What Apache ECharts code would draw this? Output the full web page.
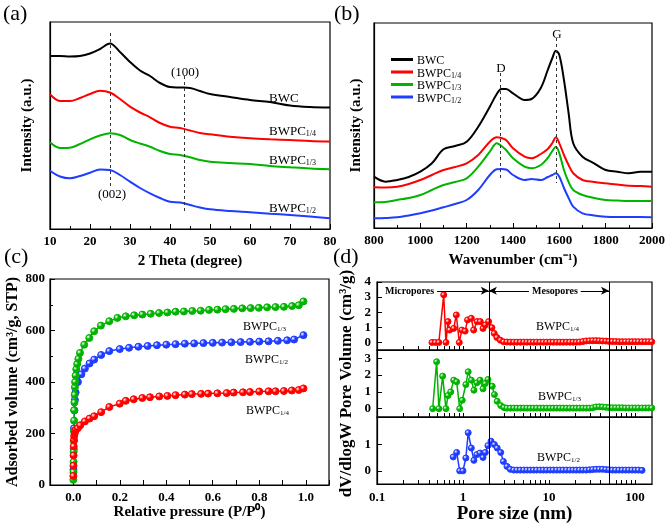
<!DOCTYPE html>
<html><head><meta charset="utf-8">
<script src="https://cdn.jsdelivr.net/npm/echarts@6/dist/echarts.min.js"></script>
<style>html,body{margin:0;padding:0;background:#fff}#c{width:668px;height:526px}</style>
</head><body><div id="c"></div>
<script>
// ---------- (a) XRD ----------
const xrdTheta = [10,12.5,15,17.5,20,22.5,25,27.5,30,32.5,35,37.5,40,42.5,45,47.5,50,55,60,65,70,75,80];
const xrdBWC   = [173,173,172.5,173,175.5,180,185.5,177,167,158.5,153,146,142,141.5,141,138,135,132,129,127,123.5,122,121.5];
const xrdP14   = [134.7,128,128,131,135,138.3,136.5,130,122.3,116.5,111.7,106,102.3,101,98.5,96,94.7,92.3,90.7,89.7,89,88,87.5];
const xrdP13   = [86.7,81,81.3,85,89.7,93.5,95.7,94,89,85.5,82.3,78,75,74,71.7,69,67.3,66,65,63,61.7,60.5,59.7];
const xrdP12   = [58.3,52.5,50.7,53,56.3,59.5,59,54,47.3,41,35.7,31,27.3,26.5,24,21.5,19.7,18,16.7,15.3,14,12.5,10.7];

// ---------- (b) Raman ----------
const ramanWn  = [800,850,900,950,1000,1050,1100,1150,1200,1250,1300,1330,1350,1370,1400,1450,1480,1520,1550,1570,1585,1600,1620,1640,1660,1700,1750,1800,1850,1900,1950,2000];
const ramanBWC = [51.3,46.3,48,51,56.3,64.7,78.7,82,86.3,101.3,121.3,134,139,139,134.7,128,129,140,158,170,177.3,173,148,115,84.7,71.3,64.7,58,56.3,54.7,56.3,56.3];
const ramanP14 = [40.7,40.5,41.3,44,48,53,58,61,64.7,73,86.3,90.7,90,88,79.7,71.3,69.7,74,79,85,90.7,84.7,73,63,54.7,48,46,44.7,43.5,42.3,42,41.3];
const ramanP13 = [25.7,26,28,30,33,38,43,46,49.7,61.3,76.3,84.7,82,78,69.7,61.3,59.7,63,70,77,81.3,74.7,58,46,38,33,30,28,27.5,27,27,27];
const ramanP12 = [9.7,10,10.7,12.5,14.7,17.5,20.7,24,28,38,53,58.7,59,58.5,53,48,49,48,51,53,54.7,51.3,40,30,21.3,14.7,12.5,11.3,11,11,11,10.7];

// ---------- (c) N2 isotherms ----------
const isoP13 = [0.0005,0.001,0.0015,0.002,0.0025,0.003,0.0035,0.004,0.005,0.006,0.007,0.008,0.01,0.013,0.017,0.022,0.029,0.047,0.069,0.09,0.119,0.155,0.19,0.226,0.262,0.297,0.333,0.369,0.405,0.44,0.476,0.512,0.548,0.584,0.62,0.655,0.691,0.727,0.763,0.798,0.834,0.87,0.906,0.941,0.97,0.99];
const isoV13 = [20,50,90,130,170,210,250,290,320,350,380,400,425,450,470,490,513,545,571,597,619,636,649,655,659,662,665,668,670,673,674,676,677,680,681,683,684,686,687,688,690,691,692,695,698,713];
const isoP12 = [0.001,0.002,0.003,0.005,0.007,0.01,0.02,0.035,0.05,0.07,0.09,0.12,0.155,0.2,0.24,0.28,0.32,0.36,0.4,0.44,0.48,0.52,0.56,0.6,0.64,0.68,0.72,0.76,0.8,0.84,0.88,0.92,0.95,0.99];
const isoV12 = [60,140,220,290,330,360,400,430,452,472,487,505,520,528,533,537,540,543,545,547,549,550,551,552,553,554,555,556,557,558,560,562,565,582];
const isoP14 = [0.0005,0.001,0.0015,0.002,0.003,0.004,0.006,0.008,0.012,0.02,0.03,0.05,0.07,0.09,0.12,0.155,0.2,0.226,0.26,0.297,0.33,0.37,0.405,0.44,0.48,0.51,0.55,0.58,0.62,0.66,0.69,0.73,0.76,0.8,0.84,0.87,0.906,0.94,0.97,0.99];
const isoV14 = [35,75,115,150,175,190,200,210,215,221,232,247,258,267,283,303,316,327,333,338,341,344,346,349,351,353,354,355,356,357,359,360,361,363,364,364,365,367,369,375];
const isoXLabels = [0,0.2,0.4,0.6,0.8,1.0];
const isoXTicks = [-0.1,0,0.1,0.2,0.3,0.4,0.5,0.6,0.7,0.8,0.9,1.0,1.1];

// ---------- (d) pore size distribution ----------
const poreTail = [3.25,3.55,3.9,4.25,4.65,5.1,5.55,6.05,6.6,7.2,7.9,8.6,9.4,10.3,11.2,12.3,13.4,14.6,16,17.5,19.1,20.8,22.7,24.8,27.1,29.6,32.3,35.3,38.5,42,45.9,50.1,54.7,59.7,65.2,71.2,77.7,84.8,92.6,101,110,121,132,144,157];
const psR = [0.436,0.478,0.524,0.597,0.634,0.67,0.70,0.78,0.836,0.906,0.97,1.06,1.13,1.25,1.33,1.46,1.59,1.71,1.82,1.99,2.17,2.31,2.48,2.72,2.97];
const dvR = [0,0,0,3.15,0,1.38,0.82,0.93,1.82,0,0.82,0.75,1.49,1.6,0.82,1.38,1.38,0.93,1.16,1.38,0.98,0.6,0.33,0.15,0.04];
const dvRTail = [0.03,0.02,0.02,0.02,0.02,0.02,0.02,0.02,0.02,0.02,0.02,0.02,0.02,0.02,0.02,0.02,0.02,0.02,0.02,0.02,0.02,0.02,0.03,0.06,0.1,0.11,0.12,0.12,0.11,0.1,0.09,0.07,0.06,0.06,0.05,0.05,0.05,0.05,0.05,0.05,0.05,0.05,0.05,0.05,0.05];
const psG = [0.444,0.494,0.525,0.58,0.634,0.67,0.72,0.78,0.845,0.916,0.98,1.08,1.15,1.25,1.34,1.45,1.58,1.71,1.82,1.95,2.19,2.32,2.5,2.75,3.0];
const dvG = [0,2.8,0,1.94,0,0.78,1.0,1.7,1.6,0,0.5,1.44,2.2,1.7,1.1,1.54,1.7,1.18,1.5,1.74,1.34,0.84,0.44,0.18,0.06];
const dvGTail = [0.03,0.03,0.03,0.03,0.03,0.03,0.03,0.03,0.03,0.03,0.03,0.03,0.03,0.03,0.03,0.03,0.03,0.03,0.03,0.03,0.03,0.03,0.03,0.03,0.03,0.03,0.05,0.1,0.11,0.1,0.08,0.06,0.05,0.05,0.05,0.05,0.04,0.04,0.04,0.04,0.04,0.04,0.04,0.04,0.04];
const psB = [0.77,0.845,0.916,1.0,1.08,1.15,1.25,1.34,1.45,1.58,1.71,1.82,1.95,2.12,2.32,2.5,2.75,2.95];
const dvB = [0.53,0.7,0,0,0.49,1.45,0.87,0.4,0.62,0.68,0.51,0.7,0.96,1.13,1.0,0.87,0.7,0.36];
const dvBTail = [0.17,0.06,0.03,0.03,0.03,0.03,0.03,0.03,0.03,0.03,0.03,0.03,0.03,0.03,0.03,0.03,0.03,0.03,0.03,0.03,0.03,0.03,0.03,0.03,0.03,0.04,0.05,0.06,0.06,0.06,0.05,0.04,0.03,0.03,0.03,0.03,0.03,0.03,0.03,0.03,0.03,0.02];
const poreXLabels = [0.1,1,10,100];
const poreXTicks = [0.1,0.2,0.3,0.4,0.5,0.6,0.7,0.8,0.9,1,2,3,4,5,6,7,8,9,10,20,30,40,50,60,70,80,90,100];
const poreY1 = [0,1,2,3,4];
const poreY2 = [0,1,2,3];
const poreY3 = [0,1];

// ---------- styling ----------
const FONT = 'Liberation Serif';
const COL = {BWC:'#000000', P14:'#ff0000', P13:'#00b400', P12:'#1f3dff'};
const zip = (xs, ys) => xs.map((x,i)=>[x, ys[i]]);
const rich = (fs, sub) => ({
  m:{fontFamily:FONT, fontSize:fs, color:'#000', lineHeight:fs+3, verticalAlign:'bottom'},
  s:{fontFamily:FONT, fontSize:sub, color:'#000', lineHeight:sub+2, verticalAlign:'bottom'}
});
const sub = (base, s) => '{m|'+base+'}' + (s ? '{s|'+s+'}' : '');
const nameTS = fs => ({fontFamily:FONT, fontSize:fs, fontWeight:'bold', color:'#000'});
const labTS = {fontFamily:FONT, fontSize:13, fontWeight:'bold', color:'#000'};
const axLine = {show:true, onZero:false, lineStyle:{color:'#000', width:1.2}};
const tickIn = {show:true, inside:true, length:5, lineStyle:{color:'#000', width:1}};
const minor = {show:true, splitNumber:2, length:3, lineStyle:{color:'#000', width:1}};
const ball = c => new echarts.graphic.RadialGradient(0.35,0.35,0.65,[{offset:0,color:'#ffffff'},{offset:0.45,color:c},{offset:1,color:c}]);
const plainNum = v => String(Number(v));

const grids = [
  {left:50, top:22, width:280, height:207},
  {left:374, top:23, width:279, height:205},
  {left:50, top:279, width:279, height:206},
  {left:377, top:282, width:275, height:68},
  {left:377, top:350, width:275, height:67},
  {left:377, top:417, width:275, height:67}
].map(g => Object.assign(g, {show:true, borderColor:'#000', borderWidth:1.2, backgroundColor:'transparent'}));

const xAxis = [
  {gridIndex:0, type:'value', min:10, max:80, interval:10, axisLine:axLine, axisTick:tickIn, minorTick:minor, splitLine:{show:false},
   axisLabel:Object.assign({margin:6, formatter:plainNum}, labTS), name:'2 Theta (degree)', nameLocation:'middle', nameGap:25, nameTextStyle:nameTS(15)},
  {gridIndex:1, type:'value', min:800, max:2000, interval:200, axisLine:axLine, axisTick:tickIn, minorTick:minor, splitLine:{show:false},
   axisLabel:Object.assign({margin:6, formatter:plainNum}, labTS), name:'Wavenumber (cm\u207B\u00B9)', nameLocation:'middle', nameGap:25, nameTextStyle:nameTS(15)},
  {gridIndex:2, type:'value', min:-0.1, max:1.1, axisLine:axLine, splitLine:{show:false},
   axisTick:Object.assign({customValues:isoXTicks}, tickIn),
   axisLabel:Object.assign({margin:6, customValues:isoXLabels, formatter:v=>Number(v).toFixed(1)}, labTS),
   name:'Relative pressure (P/P\u2070)', nameLocation:'middle', nameGap:20, nameTextStyle:nameTS(15)},
  {gridIndex:3, type:'log', logBase:10, min:0.1, max:158, axisLine:axLine, splitLine:{show:false},
   axisTick:Object.assign({customValues:poreXTicks}, tickIn, {length:4}), axisLabel:{show:false}},
  {gridIndex:4, type:'log', logBase:10, min:0.1, max:158, axisLine:axLine, splitLine:{show:false},
   axisTick:Object.assign({customValues:poreXTicks}, tickIn, {length:4}), axisLabel:{show:false}},
  {gridIndex:5, type:'log', logBase:10, min:0.1, max:158, axisLine:axLine, splitLine:{show:false},
   axisTick:Object.assign({customValues:poreXTicks}, tickIn, {length:4}),
   axisLabel:Object.assign({margin:7, customValues:poreXLabels, formatter:plainNum}, labTS),
   name:'Pore size (nm)', nameLocation:'middle', nameGap:21, nameTextStyle:nameTS(19)}
];
const yAxis = [
  {gridIndex:0, type:'value', min:0, max:207, axisLine:axLine, axisTick:{show:false}, axisLabel:{show:false}, splitLine:{show:false},
   name:'Intensity (a.u.)', nameLocation:'middle', nameGap:15, nameTextStyle:nameTS(15)},
  {gridIndex:1, type:'value', min:0, max:205, axisLine:axLine, axisTick:{show:false}, axisLabel:{show:false}, splitLine:{show:false},
   name:'Intensity (a.u.)', nameLocation:'middle', nameGap:10, nameTextStyle:nameTS(15)},
  {gridIndex:2, type:'value', min:0, max:800, interval:200, axisLine:axLine, axisTick:tickIn, minorTick:minor, splitLine:{show:false},
   axisLabel:Object.assign({margin:5}, labTS), name:'Adsorbed volume (cm\u00B3/g, STP)', nameLocation:'middle', nameGap:29, nameTextStyle:nameTS(16)},
  {gridIndex:3, type:'value', min:-0.5, max:4, axisLine:axLine, splitLine:{show:false},
   axisTick:Object.assign({customValues:poreY1}, tickIn), axisLabel:Object.assign({margin:6, customValues:poreY1}, labTS)},
  {gridIndex:4, type:'value', min:-0.5, max:3.5, axisLine:axLine, splitLine:{show:false},
   axisTick:Object.assign({customValues:poreY2}, tickIn), axisLabel:Object.assign({margin:6, customValues:poreY2}, labTS),
   name:'dV/dlogW Pore Volume (cm\u00B3/g)', nameLocation:'middle', nameGap:22, nameTextStyle:nameTS(17)},
  {gridIndex:5, type:'value', min:-0.5, max:2.05, axisLine:axLine, splitLine:{show:false},
   axisTick:Object.assign({customValues:poreY3}, tickIn), axisLabel:Object.assign({margin:6, customValues:poreY3}, labTS)}
];

const plainLine = (name, idx, xs, ys, col, extra) => Object.assign({
  name, type:'line', xAxisIndex:idx, yAxisIndex:idx, data:zip(xs, ys), smooth:0.35, showSymbol:false, symbol:'none',
  lineStyle:{color:col, width:2}, itemStyle:{color:col}, z:3, animation:false
}, extra||{});
const dotLine = (name, idx, xs, ys, col, size, extra) => Object.assign({
  name, type:'line', xAxisIndex:idx, yAxisIndex:idx, data:zip(xs, ys), symbol:'circle', symbolSize:size, showSymbol:true,
  lineStyle:{color:col, width:1.5}, itemStyle:{color:ball(col), borderColor:col, borderWidth:1}, z:3, animation:false
}, extra||{});
const dashML = (segs) => ({silent:true, symbol:['none','none'], label:{show:false},
  lineStyle:{color:'#333', width:1, type:[3,3]}, data:segs.map(s=>[{coord:[s[0],s[1]]},{coord:[s[0],s[2]]}])});
const vML = {silent:true, symbol:['none','none'], label:{show:false}, lineStyle:{color:'#000', width:1, type:'solid'}, data:[{xAxis:2},{xAxis:50}]};

const series = [
  plainLine('XRD BWC', 0, xrdTheta, xrdBWC, COL.BWC, {markLine:dashML([[25,196,42],[43.5,153,16]])}),
  plainLine('XRD BWPC1/4', 0, xrdTheta, xrdP14, COL.P14),
  plainLine('XRD BWPC1/3', 0, xrdTheta, xrdP13, COL.P13),
  plainLine('XRD BWPC1/2', 0, xrdTheta, xrdP12, COL.P12),
  plainLine('BWC', 1, ramanWn, ramanBWC, COL.BWC, {markLine:dashML([[1345,155,48],[1588,190,45]])}),
  plainLine('BWPC1/4', 1, ramanWn, ramanP14, COL.P14),
  plainLine('BWPC1/3', 1, ramanWn, ramanP13, COL.P13),
  plainLine('BWPC1/2', 1, ramanWn, ramanP12, COL.P12),
  dotLine('BET BWPC1/2', 2, isoP12, isoV12, COL.P12, 7),
  dotLine('BET BWPC1/3', 2, isoP13, isoV13, COL.P13, 7),
  dotLine('BET BWPC1/4', 2, isoP14, isoV14, COL.P14, 7),
  dotLine('PSD BWPC1/4', 3, psR.concat(poreTail), dvR.concat(dvRTail), COL.P14, 6, {markLine:vML}),
  dotLine('PSD BWPC1/3', 4, psG.concat(poreTail), dvG.concat(dvGTail), COL.P13, 6, {markLine:vML}),
  dotLine('PSD BWPC1/2', 5, psB.concat(poreTail.slice(0, dvBTail.length)), dvB.concat(dvBTail), COL.P12, 6, {markLine:vML}),
  // arrows for Micropores / Mesopores annotation in top (d) panel
  {name:'arrows', type:'line', xAxisIndex:3, yAxisIndex:3, data:[], animation:false,
   markLine:{silent:true, symbol:['none','arrow'], symbolSize:[6,8], label:{show:false}, lineStyle:{color:'#000', width:1, type:'solid'},
     data:[
       [{coord:[0.5,3.42]},{coord:[2,3.42]}],
       [{coord:[5.85,3.42]},{coord:[2,3.42]}],
       [{coord:[23.4,3.42]},{coord:[50,3.42]}]
     ]}}
];

const txt = (text, x, y, fs, opts) => ({type:'text', x, y, silent:true, z:100,
  style:Object.assign({text, rich:rich(fs, Math.round(fs*0.62)), fontFamily:FONT, fontSize:fs, fill:'#000', align:'left', verticalAlign:'middle'}, opts||{})});

const graphic = [
  txt('(a)', 3, 14, 22), txt('(b)', 334, 14, 22), txt('(c)', 4, 257, 22), txt('(d)', 333, 257, 22),
  txt(sub('(100)'), 185, 71, 13, {align:'center'}),
  txt(sub('(002)'), 112, 193, 13, {align:'center'}),
  txt(sub('BWC'), 269, 97, 13), txt(sub('BWPC','1/4'), 269, 130, 13),
  txt(sub('BWPC','1/3'), 269, 159, 13), txt(sub('BWPC','1/2'), 269, 207, 13),
  txt(sub('D'), 501, 67, 13, {align:'center'}), txt(sub('G'), 557, 33, 13, {align:'center'}),
  txt(sub('BWPC','1/3'), 243, 325, 12), txt(sub('BWPC','1/2'), 245, 358, 12), txt(sub('BWPC','1/4'), 246, 409, 12),
  txt('Micropores', 385, 291, 10, {fontWeight:'bold', rich:null}),
  txt('Mesopores', 532, 291, 10, {fontWeight:'bold', rich:null}),
  txt(sub('BWPC','1/4'), 536, 325, 12), txt(sub('BWPC','1/3'), 538, 395, 12), txt(sub('BWPC','1/2'), 537, 456, 12)
];

const legendNames = ['BWC','BWPC1/4','BWPC1/3','BWPC1/2'];
const option = {
  backgroundColor:'#fff',
  animation:false,
  grid:grids, xAxis, yAxis, series, graphic,
  legend:{data:legendNames, orient:'vertical', left:386, top:50, icon:'rect', itemWidth:22, itemHeight:3, itemGap:0.5,
    selectedMode:false,
    formatter:n => n==='BWC' ? '{m|BWC}' : '{m|BWPC}{s|'+n.slice(4)+'}',
    textStyle:{fontFamily:FONT, fontSize:12, color:'#000', padding:[0,0,0,-1], rich:rich(12,8)}}
};
const chart = echarts.init(document.getElementById('c'), null, {renderer:'canvas'});
chart.setOption(option);
</script></body></html>
